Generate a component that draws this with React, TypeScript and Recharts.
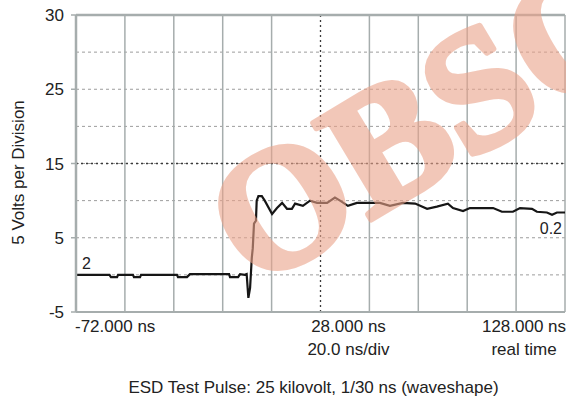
import { LineChart, Line, XAxis, YAxis, CartesianGrid, ReferenceLine } from "recharts";

// time axis (ns) and measured trace (volts), read from the scope capture
const timeNs = [
  -72, -58.3, -57.7, -55.2, -54.8, -48.7, -48.3, -45.8, -45.4, -30.7, -30.3, -26.6, -25.4,
  -9.4, -9.0, -5.7, -4.9, -3.0, -2.2, -1.5, -0.8, -0.1, 0.3, 0.8, 1.6, 1.9, 2.6, 4.0, 5.2,
  8.2, 10.2, 12.3, 14.3, 16.3, 17.6, 20.8, 23.7, 26.6, 30.7, 33.9, 36.0, 39.2, 42.9, 52.3,
  56.4, 61.7, 66.7, 71.6, 75.6, 80.1, 82.2, 86.3, 89.1, 96.1, 98.6, 102.2, 106.7, 109.6,
  114.5, 116.5, 120.6, 122.7, 124.7, 128,
];
const volts = [
  0, 0, -0.3, -0.3, 0, 0, -0.3, -0.3, 0, 0, -0.3, -0.3, 0.1,
  0.1, -0.3, -0.3, 0.1, 0, 0.1, -3.1, -1.75, 2.3, 3.6, 6.9, 7.3, 10.0, 10.6, 10.6, 10.0,
  8.2, 9.0, 9.7, 8.9, 8.9, 9.6, 9.3, 10.0, 9.7, 9.7, 10.4, 10.0, 9.3, 9.7, 9.7,
  9.3, 9.7, 9.6, 8.9, 9.2, 9.6, 9.0, 8.6, 9.0, 9.0, 9.0, 8.5, 8.5, 9.0,
  8.9, 8.5, 8.4, 8.1, 8.4, 8.4,
];

const xTicks = [-72, -52, -32, -12, 8, 28, 48, 68, 88, 108, 128];
const xLabelValues = [-72, 28, 128];
const xLabelLine1 = ["-72.000 ns", "28.000 ns", "128.000 ns"];
const xLabelLine2 = ["", "20.0 ns/div", "real time"];

const yTicks = [-5, 0, 5, 10, 15, 20, 25, 30, 35];
const yTickLabels = ["-5", "", "5", "", "15", "", "25", "", "30"];

const startMarker = "2";
const endMarker = "0.2";
const title = "ESD Test Pulse: 25 kilovolt, 1/30 ns (waveshape)";
const yTitle = "5 Volts per Division";
const watermark = "OBSOLETE";

const data = timeNs.map((t, i) => ({ t, v: volts[i] }));

const FONT = "'Liberation Sans', Arial, sans-serif";
const GRID = "#a6adad";
const DASH = "#9c9c9c";
const DARK = "#3a3a3a";

const XTick = (props: any) => {
  const { x, y, payload } = props;
  const idx = xLabelValues.indexOf(payload.value);
  if (idx < 0) return null;
  let anchor = "middle";
  let tx = x;
  if (idx === 0) {
    anchor = "start";
    tx = x - 1;
  } else if (idx === 1) {
    tx = x + 28;
  } else {
    tx = x - 41;
  }
  return (
    <g>
      <text x={tx} y={y + 20} textAnchor={anchor} fontSize={17} fill="#222" fontFamily={FONT}>
        {xLabelLine1[idx]}
      </text>
      {xLabelLine2[idx] && (
        <text x={tx} y={y + 43} textAnchor={anchor} fontSize={17} fill="#222" fontFamily={FONT}>
          {xLabelLine2[idx]}
        </text>
      )}
    </g>
  );
};

const YTick = (props: any) => {
  const { x, y, payload } = props;
  const lab = yTickLabels[yTicks.indexOf(payload.value)];
  if (!lab) return null;
  return (
    <g>
      <line x1={x + 7} x2={x + 12} y1={y} y2={y} stroke={GRID} strokeWidth={1.5} />
      <text x={x} y={y} dy="0.36em" textAnchor="end" fontSize={17} fill="#222" fontFamily={FONT}>
        {lab}
      </text>
    </g>
  );
};

export default function App() {
  const last = data.length - 1;
  return (
    <div style={{ position: "absolute", left: 0, top: 0, width: 566, height: 403, background: "#fff", overflow: "hidden" }}>
      <LineChart width={566} height={403} data={data} margin={{ top: 15, right: 1, left: 0, bottom: 0 }}>
        <CartesianGrid vertical={false} stroke={DASH} strokeDasharray="3 3" />
        {xTicks.map((t) => (
          <ReferenceLine key={"v" + t} x={t} stroke={t === 28 ? DARK : GRID} strokeWidth={t === 28 ? 1.3 : 1.5} strokeDasharray={t === 28 ? "2 3" : undefined} />
        ))}
        <ReferenceLine y={15} stroke={DARK} strokeWidth={1.3} strokeDasharray="2 3" />
        <ReferenceLine y={35} stroke={GRID} strokeWidth={2.5} />
        <XAxis
          dataKey="t"
          type="number"
          domain={[-72, 128]}
          ticks={xTicks}
          height={91}
          tickLine={false}
          tickSize={0}
          tickMargin={0}
          axisLine={{ stroke: GRID, strokeWidth: 2 }}
          tick={XTick}
          interval={0}
          label={(p: any) => {
            const vb = p.viewBox;
            return (
              <text x={vb.x + vb.width / 2 - 7} y={vb.y + 81} textAnchor="middle" fontSize={17} fill="#222" fontFamily={FONT}>
                {title}
              </text>
            );
          }}
        />
        <YAxis
          type="number"
          domain={[-5, 35]}
          ticks={yTicks}
          width={76}
          tickLine={false}
          tickSize={6}
          tickMargin={6}
          axisLine={{ stroke: GRID, strokeWidth: 2.5 }}
          tick={YTick}
          interval={0}
          label={(p: any) => {
            const vb = p.viewBox;
            const cx = vb.x + 18;
            const cy = vb.y + vb.height / 2 + 9;
            return (
              <text x={cx} y={cy} transform={`rotate(-90 ${cx} ${cy})`} textAnchor="middle" dominantBaseline="central" fontSize={17} fill="#222" fontFamily={FONT}>
                {yTitle}
              </text>
            );
          }}
        />
        <Line
          dataKey="v"
          type="linear"
          stroke="#161616"
          strokeWidth={2.2}
          dot={false}
          isAnimationActive={false}
          label={(p: any) => {
            if (p.index === 0)
              return (
                <text key="m0" x={p.x + 6} y={p.y - 6} fontSize={16} fill="#222" fontFamily={FONT}>
                  {startMarker}
                </text>
              );
            if (p.index === last)
              return (
                <text key="m1" x={p.x - 3} y={p.y + 21} textAnchor="end" fontSize={16} fill="#222" fontFamily={FONT}>
                  {endMarker}
                </text>
              );
            return null;
          }}
        />
      </LineChart>
      <svg width={566} height={403} style={{ position: "absolute", left: 0, top: 0, pointerEvents: "none" }}>
        <text
          x={254}
          y={290}
          transform="rotate(-31 254 290)"
          fontSize={172}
          fontWeight="bold"
          fontFamily="'Liberation Serif', 'Times New Roman', serif"
          fill="rgb(235,163,138)"
          stroke="rgb(235,163,138)"
          strokeWidth={6}
          strokeLinejoin="round"
          opacity={0.6}
        >
          {watermark}
        </text>
      </svg>
    </div>
  );
}
